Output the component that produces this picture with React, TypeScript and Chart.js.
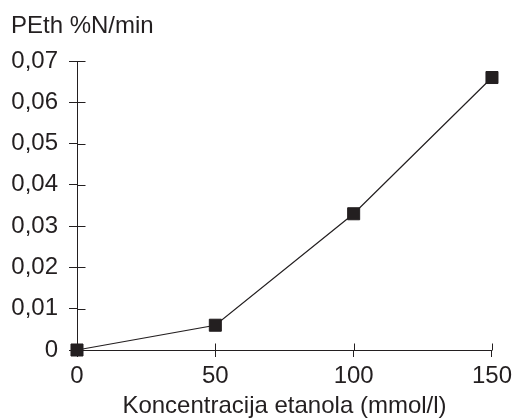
import React, { useEffect, useRef } from "react";
import { Chart, registerables } from "chart.js";

Chart.register(...registerables);

const concentrations = [0, 50, 100, 150];
const pethRates = [0, 0.006, 0.033, 0.066];
const xTickValues = [0, 50, 100, 150];
const yTickValues = [0, 0.01, 0.02, 0.03, 0.04, 0.05, 0.06, 0.07];
const yAxisTitle = "PEth %N/min";
const xAxisTitle = "Koncentracija etanola (mmol/l)";

const INK = "#231f20";
const FONT = "'Liberation Sans', Arial, Helvetica, sans-serif";

const crossTicks = {
  id: "crossTicks",
  afterDraw(chart: any) {
    const { ctx, chartArea, scales } = chart;
    ctx.save();
    ctx.strokeStyle = INK;
    ctx.lineWidth = 1;
    ctx.beginPath();
    const left = Math.round(chartArea.left) + 0.5;
    const bottom = Math.round(chartArea.bottom) + 0.5;
    yTickValues.forEach((v) => {
      const y = Math.round(scales.y.getPixelForValue(v)) + 0.5;
      ctx.moveTo(left, y);
      ctx.lineTo(left + 8, y);
    });
    xTickValues.forEach((v) => {
      const x = Math.round(scales.x.getPixelForValue(v)) + 0.5;
      ctx.moveTo(x, bottom);
      ctx.lineTo(x, bottom - 7);
    });
    ctx.stroke();
    // axis title above y axis
    ctx.fillStyle = INK;
    ctx.font = `24px ${FONT}`;
    ctx.textBaseline = "alphabetic";
    ctx.textAlign = "left";
    ctx.fillText(yAxisTitle, 11, 33);
    ctx.restore();
  },
};

export default function App() {
  const canvasRef = useRef<HTMLCanvasElement | null>(null);

  useEffect(() => {
    document.body.style.margin = "0";
    const canvas = canvasRef.current;
    if (!canvas) return;
    const chart = new Chart(canvas, {
      type: "line",
      data: {
        datasets: [
          {
            data: concentrations.map((c, i) => ({ x: c, y: pethRates[i] })),
            borderColor: INK,
            borderWidth: 1.2,
            backgroundColor: INK,
            pointStyle: "rect",
            pointRadius: 8.5,
            pointBorderWidth: 1,
            pointBorderColor: INK,
            pointBackgroundColor: INK,
            tension: 0,
            clip: false as any,
          },
        ],
      },
      options: {
        responsive: false,
        animation: false,
        layout: { padding: { top: 61, left: 0, right: 24, bottom: 0 } },
        plugins: {
          legend: { display: false },
          tooltip: { enabled: false },
          title: { display: false },
        },
        scales: {
          x: {
            type: "linear",
            min: 0,
            max: 150,
            afterBuildTicks: (scale: any) => {
              scale.ticks = xTickValues.map((v) => ({ value: v }));
            },
            afterFit: (scale: any) => {
              scale.height = 68;
            },
            grid: {
              display: true,
              drawOnChartArea: false,
              drawTicks: true,
              tickLength: 7,
              color: INK,
            },
            border: { display: true, color: INK, width: 1 },
            ticks: {
              color: INK,
              font: { family: FONT, size: 24 },
              padding: 5,
              maxRotation: 0,
              callback: (v: any) => String(v),
            },
            title: {
              display: true,
              text: xAxisTitle,
              color: INK,
              font: { family: FONT, size: 24, lineHeight: 1 },
              padding: { top: 0, bottom: 0 },
            },
          },
          y: {
            type: "linear",
            min: 0,
            max: 0.07,
            afterBuildTicks: (scale: any) => {
              scale.ticks = yTickValues.map((v) => ({ value: v }));
            },
            afterFit: (scale: any) => {
              scale.width = 77;
            },
            grid: {
              display: true,
              drawOnChartArea: false,
              drawTicks: true,
              tickLength: 8,
              color: INK,
            },
            border: { display: true, color: INK, width: 1 },
            ticks: {
              color: INK,
              font: { family: FONT, size: 24 },
              padding: 11,
              callback: (v: any) =>
                Number(v) === 0 ? "0" : Number(v).toFixed(2).replace(".", ","),
            },
          },
        },
      },
      plugins: [crossTicks],
    });
    return () => chart.destroy();
  }, []);

  return (
    <div style={{ width: 517, height: 418 }}>
      <canvas ref={canvasRef} width={517} height={418} />
    </div>
  );
}
